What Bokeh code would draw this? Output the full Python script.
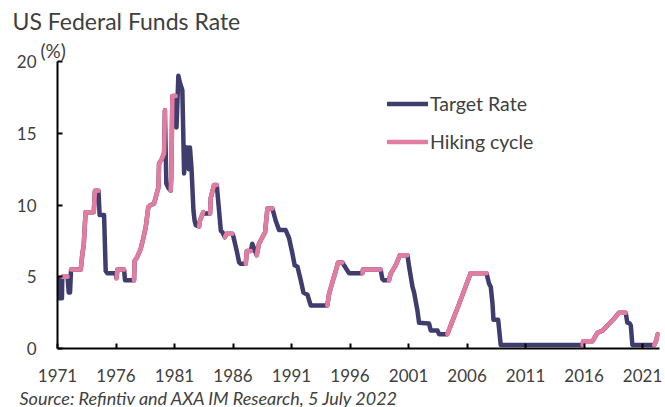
from bokeh.plotting import figure
from bokeh.models import Range1d, FixedTicker, Legend, LegendItem, Title
from bokeh.embed import file_html
from bokeh.resources import INLINE

# ---- data ----
target_dates = [
    1971.04, 1971.07, 1971.38, 1971.41, 1971.86, 1971.96, 1972.07, 1972.16, 1972.99,
    1973.10, 1973.25, 1973.40, 1974.10, 1974.20, 1974.50, 1974.60, 1974.98, 1975.12,
    1975.25, 1975.97, 1976.04, 1976.12, 1976.69, 1976.77, 1977.54, 1977.59, 1977.83,
    1978.11, 1978.31, 1978.54, 1978.76, 1978.96, 1979.25, 1979.38, 1979.63, 1979.68,
    1979.91, 1980.11, 1980.18, 1980.30, 1980.47, 1980.67, 1980.72, 1980.82, 1981.10,
    1981.17, 1981.33, 1981.47, 1981.67, 1981.82, 1981.97, 1982.12, 1982.22, 1982.32,
    1982.45, 1982.62, 1982.72, 1982.82, 1983.10, 1983.17, 1983.46, 1983.52, 1984.04,
    1984.10, 1984.38, 1984.61, 1984.81, 1984.96, 1985.10, 1985.30, 1985.45, 1985.95,
    1986.03, 1986.32, 1986.52, 1986.66, 1987.09, 1987.18, 1987.52, 1987.65, 1988.02,
    1988.22, 1988.51, 1988.74, 1988.94, 1989.37, 1989.65, 1989.94, 1990.50, 1990.79,
    1991.08, 1991.27, 1991.51, 1991.79, 1992.02, 1992.36, 1992.64, 1994.06, 1994.21,
    1994.49, 1994.78, 1994.98, 1995.35, 1995.49, 1995.91, 1997.06, 1997.10, 1998.62,
    1998.76, 1998.89, 1999.33, 1999.47, 1999.90, 2000.27, 2000.91, 2001.05, 2001.34,
    2001.48, 2001.76, 2001.90, 2002.75, 2002.90, 2003.48, 2003.61, 2004.32, 2005.32,
    2006.31, 2007.66, 2007.89, 2008.03, 2008.18, 2008.26, 2008.66, 2008.88, 2015.87,
    2015.93, 2016.72, 2017.15, 2017.58, 2018.00, 2018.56, 2018.99, 2019.56, 2019.70,
    2019.90, 2020.00, 2020.13, 2022.00, 2022.15, 2022.30,
]
target_values = [
    4.9, 3.5, 3.5, 5.0, 5.0, 3.9, 3.9, 5.5, 5.5,
    6.4, 7.3, 9.5, 9.5, 11.0, 11.0, 9.3, 9.3, 5.4,
    5.25, 5.25, 4.9, 5.5, 5.5, 4.75, 4.75, 6.1, 6.4,
    6.95, 7.6, 8.45, 9.85, 10.0, 10.1, 10.5, 11.25, 12.9,
    13.2, 13.6, 16.6, 11.5, 11.2, 11.0, 11.9, 17.6, 17.6,
    15.4, 19.0, 18.5, 18.0, 12.2, 14.0, 14.0, 12.5, 14.0,
    12.6, 9.6, 8.9, 8.6, 8.5, 8.9, 9.5, 9.4, 9.4,
    10.5, 11.4, 11.4, 9.6, 8.2, 8.1, 7.75, 8.0, 8.0,
    7.8, 6.8, 6.0, 5.9, 5.9, 6.8, 6.8, 7.3, 6.5,
    7.3, 7.75, 8.1, 9.75, 9.75, 8.9, 8.25, 8.25, 7.7,
    6.6, 5.8, 5.7, 4.75, 3.9, 3.75, 3.0, 3.0, 3.8,
    4.6, 5.4, 6.0, 6.0, 5.8, 5.25, 5.25, 5.5, 5.5,
    4.85, 4.75, 4.75, 5.2, 5.8, 6.5, 6.5, 5.7, 4.3,
    3.9, 2.65, 1.8, 1.75, 1.25, 1.25, 1.0, 1.0, 3.1,
    5.25, 5.25, 4.5, 4.3, 3.1, 2.0, 2.0, 0.25, 0.25,
    0.5, 0.5, 1.1, 1.25, 1.6, 2.07, 2.5, 2.5, 1.8,
    1.75, 1.6, 0.25, 0.25, 0.5, 1.0,
]
# hiking cycles (start, end)
hike_starts = [1971.41, 1972.16, 1976.04, 1977.54, 1980.67, 1983.10, 1984.04, 1985.30,
               1987.09, 1988.02, 1994.06, 1997.06, 1999.33, 2004.32, 2015.87, 2022.00]
hike_ends = [1971.86, 1974.50, 1976.69, 1980.18, 1981.10, 1983.46, 1984.61, 1985.95,
             1987.52, 1989.37, 1995.35, 1998.62, 2000.91, 2007.66, 2019.56, 2022.30]

x_ticks = [1971, 1976, 1981, 1986, 1991, 1996, 2001, 2006, 2011, 2016, 2021]
y_ticks = [0, 5, 10, 15, 20]

NAVY = "#3F3D6D"
PINK = "#E27CA0"
TXT = "#404040"
FONT = "Lato"

# hiking segments built from the target series
hx, hy = [], []
for a, b in zip(hike_starts, hike_ends):
    pts = [(d, v) for d, v in zip(target_dates, target_values) if a - 1e-6 <= d <= b + 1e-6]
    hx.append([d for d, _ in pts])
    hy.append([v for _, v in pts])

p = figure(frame_width=602, frame_height=287, output_backend="svg", toolbar_location=None,
           title=None, x_range=Range1d(1971.0, 2022.45), y_range=Range1d(0, 20),
           min_border_left=57, min_border_right=5, min_border_top=61, min_border_bottom=58)
p.outline_line_color = None
p.grid.visible = False

r1 = p.line(target_dates, target_values, line_color=NAVY, line_width=4.5,
            line_join="round", line_cap="round")
r2 = p.multi_line(xs=hx, ys=hy, line_color=PINK, line_width=4.5,
                  line_join="round", line_cap="round")

for ax in (p.xaxis[0], p.yaxis[0]):
    ax.axis_line_color = "black"
    ax.axis_line_width = 2
    ax.major_tick_line_color = "black"
    ax.major_tick_line_width = 2
    ax.major_tick_in = 5
    ax.major_tick_out = 0
    ax.minor_tick_line_color = None
    ax.major_label_text_font = FONT
    ax.major_label_text_font_size = "17px"
    ax.major_label_text_color = TXT
p.xaxis.major_label_standoff = 20
p.yaxis.major_label_standoff = 21

p.xaxis.ticker = FixedTicker(ticks=x_ticks)
p.yaxis.ticker = FixedTicker(ticks=y_ticks)

legend = Legend(items=[LegendItem(label="Target Rate", renderers=[r1]),
                       LegendItem(label="Hiking cycle", renderers=[r2])],
                location=(330, 194), padding=0, margin=0, spacing=13,
                glyph_width=41, glyph_height=25, label_height=25, label_standoff=2,
                border_line_color=None, background_fill_alpha=0,
                label_text_font=FONT, label_text_font_size="19.5px", label_text_color=TXT)
p.add_layout(legend)

# texts outside the frame, placed in the side panels
p.add_layout(Title(text="(%)", align="left", offset=-17, standoff=0,
                   text_font=FONT, text_font_size="19px", text_color=TXT,
                   text_font_style="normal"), "above")
p.add_layout(Title(text="US Federal Funds Rate", align="left", offset=-45, standoff=3,
                   text_font=FONT, text_font_size="23px", text_color=TXT,
                   text_font_style="normal"), "above")
p.add_layout(Title(text="Source: Refintiv and AXA IM Research, 5 July 2022", align="left",
                   offset=-38, standoff=0, text_font=FONT, text_font_size="18px",
                   text_font_style="italic", text_color=TXT), "below")

open("out.html", "w").write(file_html(p, INLINE))
